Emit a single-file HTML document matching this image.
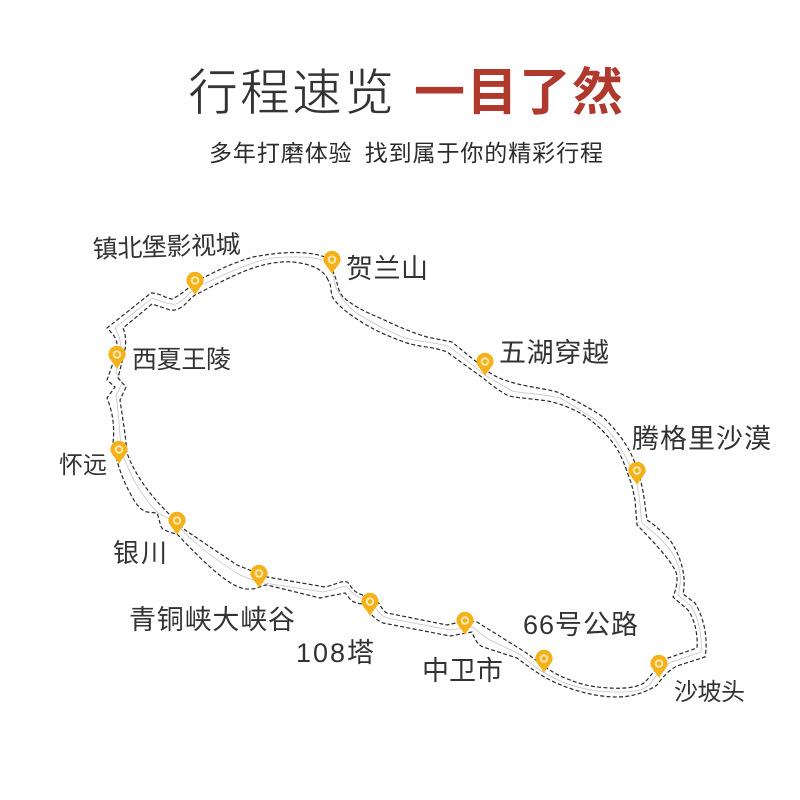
<!DOCTYPE html>
<html lang="zh"><head><meta charset="utf-8"><title>行程速览</title>
<style>html,body{margin:0;padding:0;background:#fff}svg{display:block}
text{font-family:"Liberation Sans","Noto Sans CJK SC",sans-serif;fill:#333}
.c{font-family:"Noto Sans CJK SC",sans-serif}</style></head><body>
<svg width="800" height="800" viewBox="0 0 800 800" xmlns="http://www.w3.org/2000/svg">
<defs>
<g id="pin"><path d="M-8.200 1A8.600 8.600 0 1 1 8.200 1C6 5 2 9 0 13C-2 9 -6 5 -8.200 1Z" fill="#f4b118"/><circle cx="0" cy="-1.500" r="3.300" fill="none" stroke="#fbe9b4" stroke-width="2"/></g>
</defs>
<text class="c" x="188" y="110" font-size="50" textLength="206" lengthAdjust="spacing" style="stroke:#fff;stroke-width:.8px;fill:#333">行程速览</text>
<text class="c" x="414" y="110" font-size="51" font-weight="700" textLength="209" lengthAdjust="spacing" style="fill:#b0392e">一目了然</text>
<text class="c" x="209" y="161" font-size="23" textLength="394" lengthAdjust="spacing" style="fill:#2b2b2b">多年打磨体验&#160;&#160;找到属于你的精彩行程</text>
<g fill="none" stroke-linejoin="round">
<path stroke="#c4c4c4" stroke-width=".8" d="M329,263C318,256 293,256 272,258C258,260 240,267 199,286C190,291 184,301 176,304C170,305 160,301 152,298L115,328C121,338 122,348 120,358L116,372L122,383L116,396C119,415 120,435 121,450C128,470 140,495 158,513L175,522C190,540 210,556 240,575L258,582L323,592C335,590 342,585 347,587C352,592 355,598 368,600C376,606 378,615 387,618L450,630L472,627C478,630 482,636 490,640L521,655C535,668 548,676 565,683C585,690 600,692 617,692C635,692 645,690 650,684C656,676 662,666 672,662L701,652C702,638 700,620 691,606L678,595C682,580 682,565 668,547C660,537 650,530 642,523C640,510 640,498 638,490C636,478 634,472 632,470C625,455 618,442 608,430C598,420 580,410 560,398C540,393 525,394 512,391L485,375L450,347C435,342 420,342 405,338C390,332 370,322 355,312C345,304 340,295 336,288C334,280 333,270 329,263"/>
<path stroke="#2a2a2a" stroke-width="1.200" stroke-dasharray="4 2.300" d="M325,257C305,250 280,252 253,257C235,262 218,270 203,278C190,285 182,295 172,299C165,298 160,293 151,293L107,328C112,333 117,338 117,345L113,363L107,380L115,387L107,398C112,410 115,425 113,443C115,455 120,475 130,493C135,503 140,510 147,512L157,513C160,520 160,530 165,530C170,533 175,533 178,535C190,548 205,563 217,573C228,582 240,590 250,589C258,589 262,585 267,585L320,598L345,593C350,598 350,603 363,604C368,610 372,618 383,623L450,636L472,632C475,640 478,645 483,647L517,658C530,668 540,675 550,680C570,690 595,697 617,697C635,697 650,690 657,685C662,678 670,668 680,665L705,657C708,640 705,620 695,603L683,594C687,575 680,555 670,540C662,532 655,525 647,520C645,505 644,495 642,487C640,475 637,468 635,463C628,445 618,432 603,417C590,408 575,400 557,392C540,387 510,386 490,373L452,342L427,337C410,332 395,325 380,318C365,312 352,305 343,297C339,292 338,287 337,283C335,275 332,268 325,257"/>
<path stroke="#2a2a2a" stroke-width="1.200" stroke-dasharray="4 2.300" d="M328,280C324,270 312,264 293,262C280,261 265,264 253,268C235,274 215,285 195,295C188,300 185,306 180,308C175,311 172,310 170,310L152,304L123,328C126,335 127,345 123,358L118,378L126,387L120,400C122,415 125,430 127,453C135,475 150,495 168,513L185,530L237,565L267,577L325,587C335,585 342,580 347,582C352,585 350,592 366,596C372,598 376,600 378,602C382,608 384,612 387,613L447,625L465,621L477,622L525,652C540,663 550,672 565,678C580,684 590,687 610,688C625,689 640,687 645,682C652,675 660,662 668,658L697,648C698,635 695,620 688,610L673,597C678,585 678,575 675,570C670,560 655,543 637,525L635,500C633,490 632,485 630,480C625,465 620,452 613,443C605,432 592,420 580,413C565,405 552,401 540,400C525,398 515,398 507,395C498,390 490,384 483,378L447,352C435,347 420,347 407,343C390,337 378,332 363,323C352,316 340,308 333,298C330,292 332,285 328,280"/>
</g>
<use href="#pin" x="195" y="282"/><use href="#pin" x="332" y="261"/><use href="#pin" x="485" y="363"/><use href="#pin" x="637" y="472"/><use href="#pin" x="117" y="356"/><use href="#pin" x="119" y="451"/><use href="#pin" x="177" y="522"/><use href="#pin" x="259" y="575"/><use href="#pin" x="370" y="603"/><use href="#pin" x="465" y="622"/><use href="#pin" x="544" y="660"/><use href="#pin" x="659" y="665"/>
<g font-size="25">
<text class="c" transform="rotate(-2 93 258)" x="93" y="258" textLength="148" lengthAdjust="spacing">镇北堡影视城</text>
<text class="c" x="346" y="278" font-size="27" textLength="82" lengthAdjust="spacing">贺兰山</text>
<text class="c" x="499" y="362" font-size="27" textLength="110" lengthAdjust="spacing">五湖穿越</text>
<text class="c" x="632" y="448" font-size="27" textLength="139" lengthAdjust="spacing">腾格里沙漠</text>
<text class="c" x="132" y="368" textLength="99" lengthAdjust="spacing">西夏王陵</text>
<text class="c" x="59" y="473" font-size="24" textLength="48" lengthAdjust="spacing">怀远</text>
<text class="c" x="113" y="562" font-size="26" textLength="54" lengthAdjust="spacing">银川</text>
<text class="c" x="129" y="629" font-size="27" textLength="166" lengthAdjust="spacing">青铜峡大峡谷</text>
<text x="296" y="662" font-size="27" textLength="78" lengthAdjust="spacing">108塔</text>
<text class="c" x="422" y="680" font-size="27" textLength="81" lengthAdjust="spacing">中卫市</text>
<text x="523" y="634" font-size="27" textLength="115" lengthAdjust="spacing">66号公路</text>
<text class="c" x="674" y="700" font-size="24" textLength="71" lengthAdjust="spacing">沙坡头</text>
</g>
</svg>
</body></html>
